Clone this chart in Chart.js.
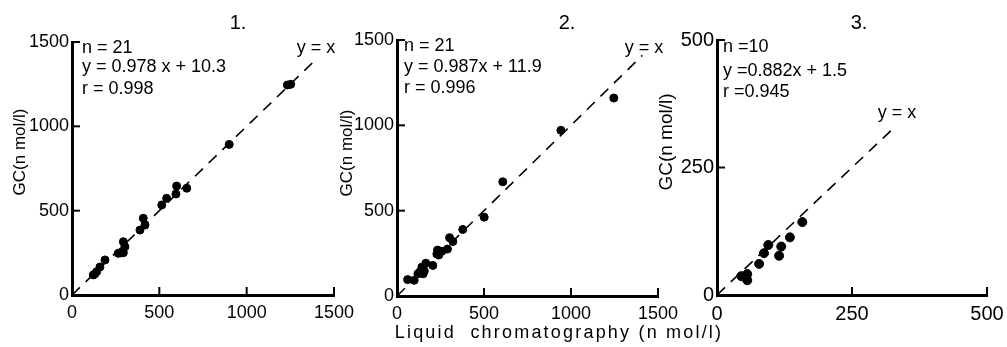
<!DOCTYPE html>
<html>
<head>
<meta charset="utf-8">
<script src="https://cdn.jsdelivr.net/npm/chart.js@4"></script>
<style>
body{margin:0;background:#fff;}
#wrap{position:relative;width:1007px;height:347px;}
canvas{position:absolute;left:0;top:0;}
</style>
</head>
<body>
<div id="wrap">
<canvas id="c1" width="1007" height="347"></canvas>
<canvas id="c2" width="1007" height="347"></canvas>
<canvas id="c3" width="1007" height="347"></canvas>
</div>
<script>
// panel 1
let lc1 = [122,130,141,160,189,265,280,294,303,294,389,418,408,514,542,595,599,657,900,1233,1252];
let gc1 = [119,124,138,166,208,247,250,251,286,316,385,415,455,534,573,599,646,633,893,1245,1249];
let diag1 = [0,1390];
let ticks1 = [0,500,1000,1500];
let notes1 = ["n = 21","y = 0.978 x + 10.3","r = 0.998"];

// panel 2
let lc2 = [61,99,120,130,143,150,157,166,206,229,233,240,258,290,302,321,378,501,608,942,1246];
let gc2 = [96,92,130,140,169,130,146,192,179,246,269,240,262,275,342,319,390,462,669,971,1160];
let diag2 = [0,1410];
let ticks2 = [0,500,1000,1500];
let notes2 = ["n = 21","y = 0.987x + 11.9","r = 0.996"];

// panel 3
let lc3 = [45,56,56,78,87,95,115,119,135,158];
let gc3 = [37,41,29,61,82,98,77,95,113,143];
let diag3 = [0,325];
let ticks3 = [0,250,500];
let notes3 = ["n =10","y =0.882x + 1.5","r =0.945"];

const F = "'Liberation Sans', Arial, sans-serif";
const yTitle = "GC(n mol/l)";
const xTitle = "Liquid  chromatography (n mol/l)";

const panels = [
  {id:"c1", lc:lc1, gc:gc1, diag:diag1, ticks:ticks1, notes:notes1, max:1500, fs:18, r:4,
   area:{left:72,right:334,top:42,bottom:295}, title:"1.", titlePos:[238,23],
   notePos:[82,[48,67,89]], eqPos:[316,48], ytPos:[20,152], ytSize:17},
  {id:"c2", lc:lc2, gc:gc2, diag:diag2, ticks:ticks2, notes:notes2, max:1500, fs:18, r:4,
   area:{left:397,right:658,top:40,bottom:296}, title:"2.", titlePos:[567,23],
   notePos:[404,[46,67,88]], eqPos:[644,48], ytPos:[347,153], ytSize:17, xt:[559,333]},
  {id:"c3", lc:lc3, gc:gc3, diag:diag3, ticks:ticks3, notes:notes3, max:500, fs:18, r:4.5,
   area:{left:717,right:987,top:40,bottom:295}, title:"3.", titlePos:[859,23],
   notePos:[723,[47,71,92]], eqPos:[897,113], ytPos:[667,142], ytSize:19, tfs:20}
];

function deco(p) {
  return {
    id: "deco",
    afterDraw(chart) {
      const ctx = chart.ctx;
      const xs = chart.scales.x, ys = chart.scales.y;
      const a = chart.chartArea;
      ctx.save();
      ctx.strokeStyle = "#000";
      ctx.lineWidth = 2;
      // inward ticks
      p.ticks.forEach(v => {
        if (v === 0) return;
        let px = xs.getPixelForValue(v);
        ctx.beginPath(); ctx.moveTo(px, a.bottom); ctx.lineTo(px, a.bottom - 8); ctx.stroke();
        let py = ys.getPixelForValue(v);
        ctx.beginPath(); ctx.moveTo(a.left, py); ctx.lineTo(a.left + 8, py); ctx.stroke();
      });
      ctx.fillStyle = "#000";
      ctx.textBaseline = "middle";
      ctx.textAlign = "left";
      ctx.font = p.fs + "px " + F;
      p.notes.forEach((t, i) => ctx.fillText(t, p.notePos[0], p.notePos[1][i]));
      ctx.textAlign = "center";
      ctx.fillText("y = x", p.eqPos[0], p.eqPos[1]);
      ctx.font = "20px " + F;
      ctx.fillText(p.title, p.titlePos[0], p.titlePos[1]);
      if (p.xt) {
        ctx.font = "18px " + F;
        ctx.letterSpacing = "2.2px";
        ctx.fillText(xTitle, p.xt[0], p.xt[1]);
        ctx.letterSpacing = "0px";
      }
      ctx.translate(p.ytPos[0], p.ytPos[1]);
      ctx.rotate(-Math.PI / 2);
      ctx.font = p.ytSize + "px " + F;
      ctx.fillText(yTitle, 0, 0);
      ctx.restore();
    }
  };
}

function makeChart(p) {
  const yW = 50, xH = 30;
  const tfs = p.tfs || p.fs;
  const axis = (horiz) => ({
    type: "linear", min: 0, max: p.max,
    afterBuildTicks: s => { s.ticks = p.ticks.map(v => ({value: v})); },
    afterFit: s => {
      if (horiz) { s.height = xH; s.paddingLeft = 0; s.paddingRight = 0; }
      else { s.width = yW; s.paddingTop = 0; s.paddingBottom = 0; }
    },
    grid: {display: false, drawTicks: false},
    border: {display: true, width: 3, color: "#000"},
    ticks: {color: "#000", font: {family: F, size: tfs}, padding: horiz ? 7 : 3, maxRotation: 0, autoSkip: false,
            callback: v => String(v)}
  });
  return new Chart(document.getElementById(p.id), {
    type: "scatter",
    data: {
      datasets: [
        {data: p.lc.map((v, i) => ({x: v, y: p.gc[i]})), backgroundColor: "#000", borderColor: "#000",
         pointRadius: p.r, pointHoverRadius: p.r},
        {data: p.diag.map(v => ({x: v, y: v})), showLine: true, borderColor: "#000", borderWidth: 1.6,
         borderDash: [11, 8], pointRadius: 0, fill: false}
      ]
    },
    options: {
      responsive: false, animation: false, events: [],
      layout: {padding: {left: p.area.left - yW, right: 1007 - p.area.right, top: p.area.top, bottom: 347 - p.area.bottom - xH}},
      plugins: {legend: {display: false}, tooltip: {enabled: false}},
      scales: {x: axis(true), y: axis(false)}
    },
    plugins: [deco(p)]
  });
}

panels.forEach(makeChart);
</script>
</body>
</html>
